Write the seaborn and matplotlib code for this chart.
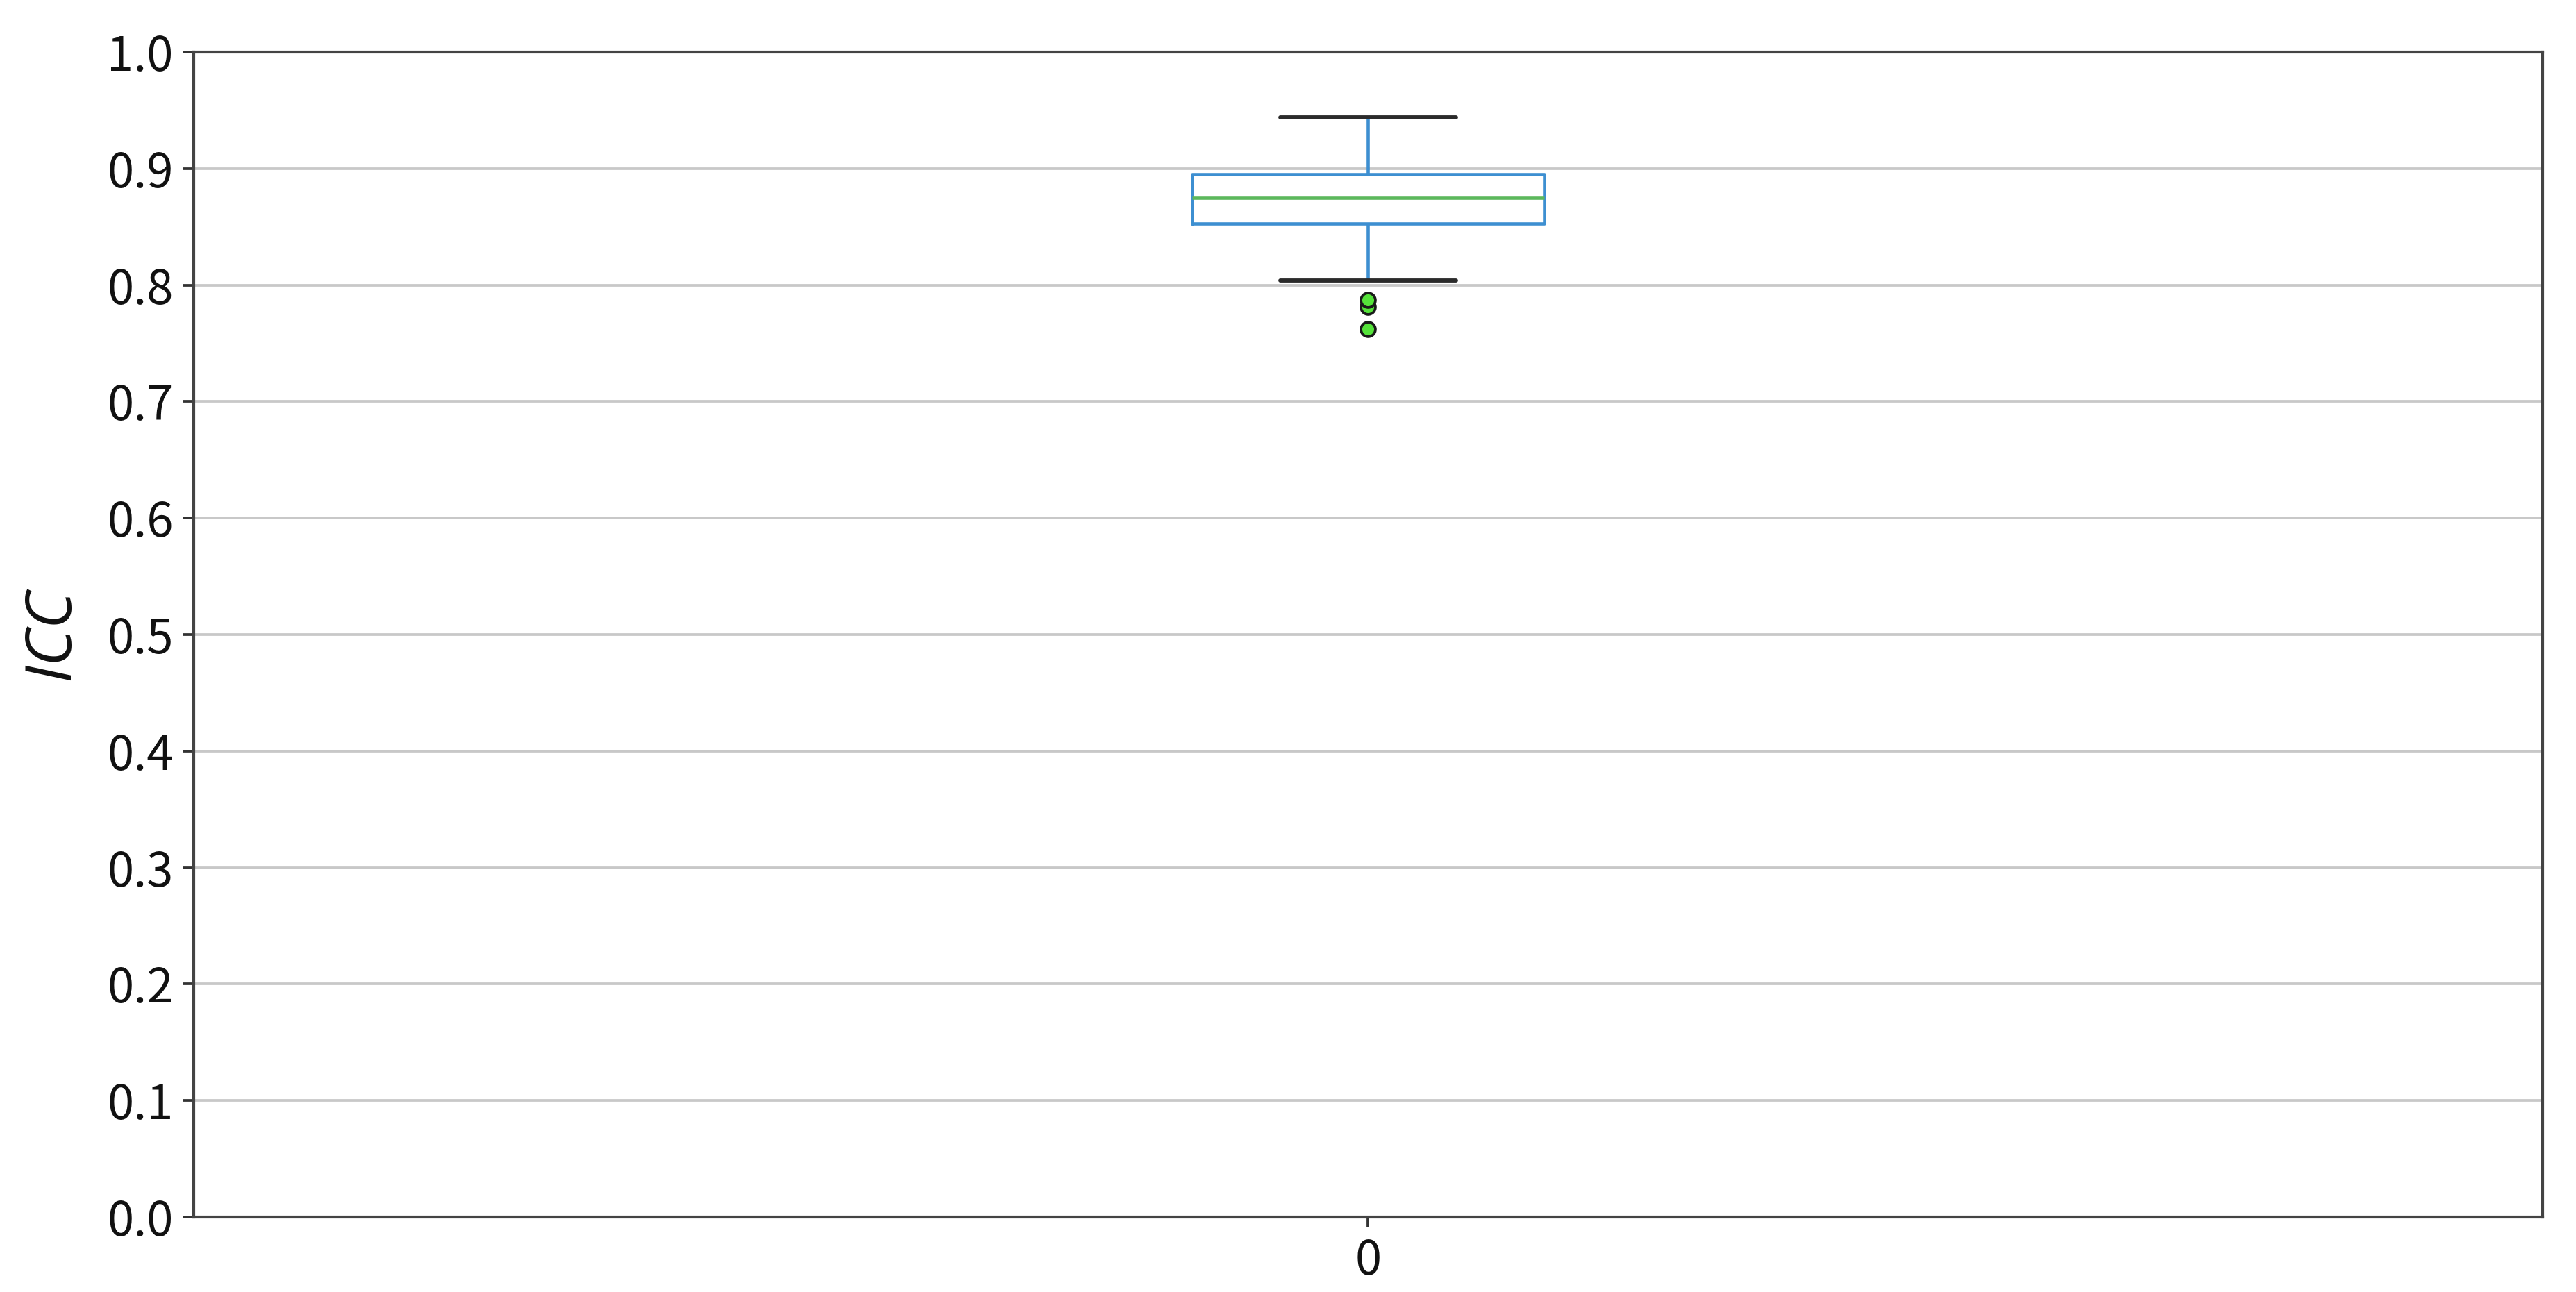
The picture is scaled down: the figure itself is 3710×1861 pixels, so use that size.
import matplotlib
matplotlib.use("Agg")
import matplotlib.pyplot as plt
import seaborn as sns
import pandas as pd

# ICC values (hand-read to reproduce the box statistics in the reference)
icc_values = [0.762, 0.781, 0.787, 0.804, 0.831, 0.853, 0.858, 0.864, 0.868,
              0.872, 0.875, 0.879, 0.883, 0.887, 0.891, 0.895, 0.902, 0.911,
              0.922, 0.933, 0.944]
group_labels = ["0"] * len(icc_values)
y_ticks = [0.0, 0.1, 0.2, 0.3, 0.4, 0.5, 0.6, 0.7, 0.8, 0.9, 1.0]
y_label = "ICC"

df = pd.DataFrame({"group": group_labels, "ICC": icc_values})

sns.set_theme(style="white")
plt.rcParams['font.family'] = ['Noto Sans CJK SC', 'DejaVu Sans']

fig = plt.figure(figsize=(3711 / 300, 1861 / 300), dpi=300)
ax = fig.add_axes([279 / 3711, 1 - 1753 / 1861, (3662 - 279) / 3711, (1753 - 75) / 1861])

blue = "#3d8fd1"
green = "#5cb85c"
sns.boxplot(data=df, x="group", y="ICC", ax=ax, width=0.15, fill=False,
            color=blue, linewidth=1.1,
            medianprops=dict(color=green, linewidth=1.1),
            whiskerprops=dict(color=blue, linewidth=1.1),
            capprops=dict(color="#2b2b2b", linewidth=1.4),
            boxprops=dict(color=blue, linewidth=1.1),
            flierprops=dict(marker="o", markerfacecolor="#55e33a",
                            markeredgecolor="#1a1a1a", markersize=5,
                            markeredgewidth=0.9))

ax.set_ylim(0, 1.0)
ax.set_xlim(-0.5, 0.5)
ax.set_yticks(y_ticks)
ax.set_yticklabels([f"{t:.1f}" for t in y_ticks])
ax.yaxis.grid(True, color="#c8c8c8", linewidth=0.9)
ax.xaxis.grid(False)
ax.set_axisbelow(True)
ax.set_xlabel("")
ax.set_ylabel(y_label, fontsize=22, style="italic", family=['Open Sans', 'DejaVu Sans'],
              color="#111111", labelpad=8)
for s in ax.spines.values():
    s.set_visible(True)
    s.set_color("#444444")
    s.set_linewidth(1.0)
ax.tick_params(axis="both", which="major", labelsize=16.5, length=3.5, width=0.9,
               color="#333333", labelcolor="#111111", left=True, bottom=True)

fig.savefig("out.png", dpi=300, facecolor="white")
